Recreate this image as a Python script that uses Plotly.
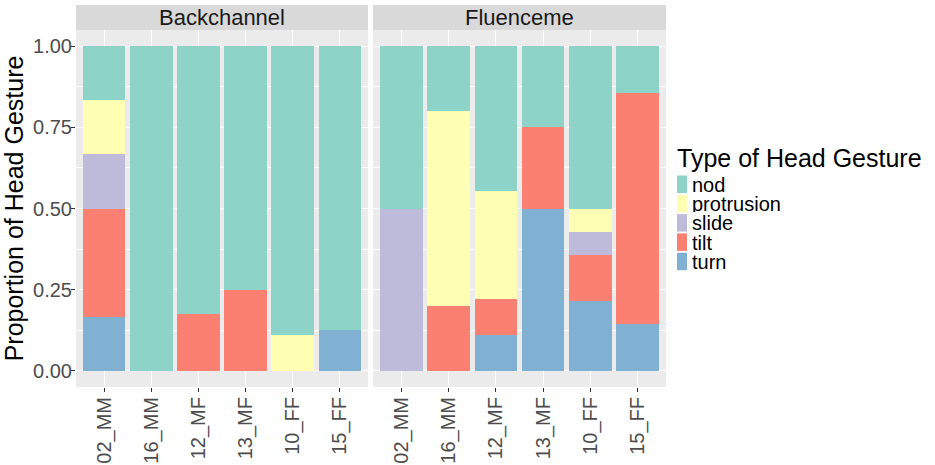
import plotly.graph_objects as go

W, H = 935, 465

categories = ["02_MM", "16_MM", "12_MF", "13_MF", "10_FF", "15_FF"]
facets = ["Backchannel", "Fluenceme"]
gestures = ["nod", "protrusion", "slide", "tilt", "turn"]
gesture_colors = ["#8DD3C7", "#FFFFB3", "#BEBADA", "#FB8072", "#80B1D3"]
y_ticks = [0, 0.25, 0.5, 0.75, 1.0]
y_tick_labels = ["0.00", "0.25", "0.50", "0.75", "1.00"]

# Backchannel proportions
back_nod = [0.166, 1.0, 0.824, 0.75, 0.889, 0.875]
back_protrusion = [0.167, 0, 0, 0, 0.111, 0]
back_slide = [0.167, 0, 0, 0, 0, 0]
back_tilt = [0.333, 0, 0.176, 0.25, 0, 0]
back_turn = [0.167, 0, 0, 0, 0, 0.125]

# Fluenceme proportions
flu_nod = [0.5, 0.2, 0.445, 0.25, 0.5, 0.143]
flu_protrusion = [0, 0.6, 0.333, 0, 0.071, 0]
flu_slide = [0.5, 0, 0, 0, 0.072, 0]
flu_tilt = [0, 0.2, 0.111, 0.25, 0.143, 0.714]
flu_turn = [0, 0, 0.111, 0.5, 0.214, 0.143]

data = {
    "Backchannel": {"nod": back_nod, "protrusion": back_protrusion, "slide": back_slide,
                    "tilt": back_tilt, "turn": back_turn},
    "Fluenceme": {"nod": flu_nod, "protrusion": flu_protrusion, "slide": flu_slide,
                  "tilt": flu_tilt, "turn": flu_turn},
}

FONT = "Liberation Sans, Arial, Helvetica, sans-serif"
color_of = dict(zip(gestures, gesture_colors))

fig = go.Figure()
for fi, facet in enumerate(facets):
    xa = "x" if fi == 0 else "x2"
    ya = "y" if fi == 0 else "y2"
    for g in reversed(gestures):  # bottom of stack first: turn ... nod
        fig.add_trace(go.Bar(
            x=categories, y=data[facet][g], name=g,
            marker=dict(color=color_of[g], line=dict(width=0)),
            xaxis=xa, yaxis=ya, showlegend=False,
            hovertemplate=facet + "<br>%{x}<br>" + g + ": %{y:.3f}<extra></extra>",
        ))

# panel geometry (pixels)
panels = [(76, 368), (373, 666)]
py0, py1 = 78, 435  # from bottom
sy1 = 460

def px(v):
    return v / W

def py(v):
    return v / H

axis_common = dict(
    type="category", categoryorder="array", categoryarray=categories,
    range=[-0.6, len(categories) - 0.4],
    tickangle=-90, ticks="outside", ticklen=4, tickcolor="#333333", tickwidth=1,
    showgrid=True, gridcolor="white", gridwidth=1.1, zeroline=False, showline=False,
    tickfont=dict(family=FONT, size=20, color="#4D4D4D"), automargin=False,
    ticklabelstandoff=-3,
)
yaxis_common = dict(
    range=[-0.05, 1.05], tickvals=y_ticks, ticktext=y_tick_labels,
    ticks="outside", ticklen=4, tickcolor="#333333", tickwidth=1,
    showgrid=True, gridcolor="white", gridwidth=1.1, zeroline=False, showline=False,
    minor=dict(tickvals=[0.125, 0.375, 0.625, 0.875], showgrid=True,
               gridcolor="white", gridwidth=0.55),
    tickfont=dict(family=FONT, size=20, color="#4D4D4D"), automargin=False,
    domain=[py(py0), py(py1)], ticklabelstandoff=-5,
)

fig.update_layout(
    width=W, height=H,
    margin=dict(l=0, r=0, t=0, b=0),
    paper_bgcolor="white", plot_bgcolor="#EBEBEB",
    barmode="stack", bargap=0.1,
    showlegend=False,
    font=dict(family=FONT, color="black"),
    xaxis=dict(axis_common, domain=[px(panels[0][0]), px(panels[0][1])], anchor="y"),
    xaxis2=dict(axis_common, domain=[px(panels[1][0]), px(panels[1][1])], anchor="y2"),
    yaxis=dict(yaxis_common, anchor="x",
               title=dict(text="Proportion of Head Gesture",
                          font=dict(family=FONT, size=25, color="black"), standoff=7)),
    yaxis2=dict(yaxis_common, anchor="x2", matches="y", showticklabels=False, ticks=""),
)

# facet strips
shapes = []
annotations = []
for (x0, x1), facet in zip(panels, facets):
    shapes.append(dict(type="rect", xref="paper", yref="paper",
                       x0=px(x0), x1=px(x1), y0=py(py1), y1=py(sy1),
                       fillcolor="#D9D9D9", line=dict(width=0), layer="below"))
    annotations.append(dict(text=facet, xref="paper", yref="paper",
                            x=px((x0 + x1) / 2), y=py((py1 + sy1) / 2),
                            xanchor="center", yanchor="middle", showarrow=False,
                            font=dict(family=FONT, size=22, color="#1A1A1A")))

# legend (drawn in paper coords)
leg_x = 677
annotations.append(dict(text="Type of Head Gesture", xref="paper", yref="paper",
                        x=px(leg_x - 2), y=py(H - 158), xanchor="left", yanchor="middle",
                        showarrow=False, font=dict(family=FONT, size=25, color="black")))
row_h = 19.3
top = H - 175.5
for i, g in enumerate(gestures):
    y_top = top - i * row_h
    y_bot = y_top - 17.5
    shapes.append(dict(type="rect", xref="paper", yref="paper",
                       x0=px(leg_x), x1=px(leg_x + 10), y0=py(y_bot), y1=py(y_top),
                       fillcolor=color_of[g], line=dict(width=0)))
    annotations.append(dict(text=g, xref="paper", yref="paper",
                            x=px(leg_x + 14), y=py((y_top + y_bot) / 2),
                            xanchor="left", yanchor="middle", showarrow=False,
                            height=17, borderpad=0, valign="middle",
                            font=dict(family=FONT, size=20, color="black")))

fig.update_layout(shapes=shapes, annotations=annotations)
fig.write_html("out.html", config={"displayModeBar": False},
               post_script="document.body.style.margin='0';document.body.style.overflow='hidden';")
